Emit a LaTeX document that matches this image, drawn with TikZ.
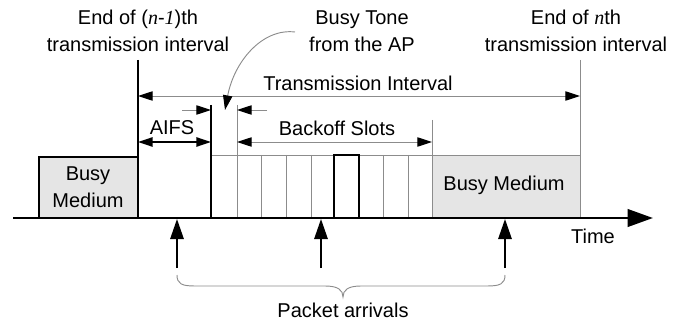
\documentclass[tikz,border=0pt]{standalone}
\usepackage{fontspec}
\setmainfont{Liberation Sans}
\newfontfamily\timesfont{Liberation Serif}
\usetikzlibrary{arrows.meta}
\newcommand{\ivar}[1]{{\timesfont\itshape #1}}

\begin{document}
\begin{tikzpicture}[x=0.75pt,y=-0.75pt,
  txt/.style={font=\fontsize{15}{20}\selectfont, align=center, inner sep=0pt},
  gline/.style={draw=black!45, line width=0.7pt},
  bold/.style={line width=1.8pt},
  small tip/.style={{Triangle[length=11pt,width=7pt,color=black]}},
  ptr/.style={-{Triangle[length=11pt,width=7pt,color=black]}},
  dbl/.style={{Triangle[length=11pt,width=7pt,color=black]}-{Triangle[length=11pt,width=7pt,color=black]}},
  up/.style={line width=1.4pt, -{Triangle[length=15pt,width=10pt]}}]

\useasboundingbox (0,0) rectangle (686,321);

% time axis
\coordinate (origin) at (13,218);
\coordinate (tend) at (653,218);

% busy periods
\draw[line width=1.2pt, fill=black!10] (39,218) rectangle (138,157);
\fill[black!10] (432,155) rectangle (580,218);
\node[txt] (busyA) at (88,187) {Busy\\Medium};
\node[txt] (busyB) at (504,185) {Busy Medium};

% slots
\draw[gline] (211,155) -- (580,155);
\draw[gline] (580,60) -- (580,218);
\foreach \x in {261,286,311,383,408}
  \draw[gline] (\x,155) -- (\x,218);
\draw[gline] (237,105) -- (237,218);
\draw[gline] (432,120) -- (432,218);
\draw[line width=1.4pt] (334,218) -- (334,155) -- (359,155) -- (359,218);

\draw[bold] (138,60) -- (138,218);
\draw[bold] (211,105) -- (211,218);

\draw[line width=2.2pt, -{Triangle[length=19pt,width=13pt]}] (origin) -- (tend);
\node[txt] (time) at (593,236) {Time};

% intervals
\coordinate (ti0) at (138,96);
\coordinate (ti1) at (580,96);
\draw[gline, dbl] (ti0) -- (ti1);
\node[txt] (tilabel) at (358,83) {Transmission Interval};

\coordinate (af0) at (138,142);
\coordinate (af1) at (211,142);
\draw[line width=1.2pt, dbl] (af0) -- (af1);
\node[txt] (aifs) at (172,128) {AIFS};
\coordinate (afp) at (182,110);
\coordinate (afq) at (211,110);
\draw[gline, ptr] (afp) -- (afq);

\coordinate (bo0) at (237,142);
\coordinate (bo1) at (432,142);
\draw[gline, dbl] (bo0) -- (bo1);
\node[txt] (backoff) at (337,128) {Backoff Slots};
\coordinate (bop) at (267,110);
\coordinate (boq) at (237,110);
\draw[gline, ptr] (bop) -- (boq);

% labels on top
\node[txt] (prevend) at (138,31) {End of (\ivar{n}-\ivar{1})th\\transmission interval};
\node[txt] (tone) at (362,31) {Busy Tone\\from the AP};
\node[txt] (thisend) at (576,31) {End of \ivar{n}th\\transmission interval};
\coordinate (toneA) at (295,32);
\coordinate (toneB) at (225,110);
\draw[gline, ptr] (toneA) .. controls (262,28) and (234,62) .. (toneB);

% packet arrivals
\foreach \x [count=\i] in {177,321,505} {
  \coordinate (pa\i) at (\x,268);
  \coordinate (pb\i) at (\x,219);
  \draw[up] (pa\i) -- (pb\i);
}
\draw[gline] (177,275) .. controls (177,284) and (182,286) .. (195,286)
  -- (325,286) .. controls (338,286) and (343,290) .. (343,297)
  .. controls (343,290) and (348,286) .. (361,286)
  -- (487,286) .. controls (500,286) and (505,284) .. (505,275);
\node[txt] (packets) at (343,310) {Packet arrivals};

\end{tikzpicture}
\end{document}
